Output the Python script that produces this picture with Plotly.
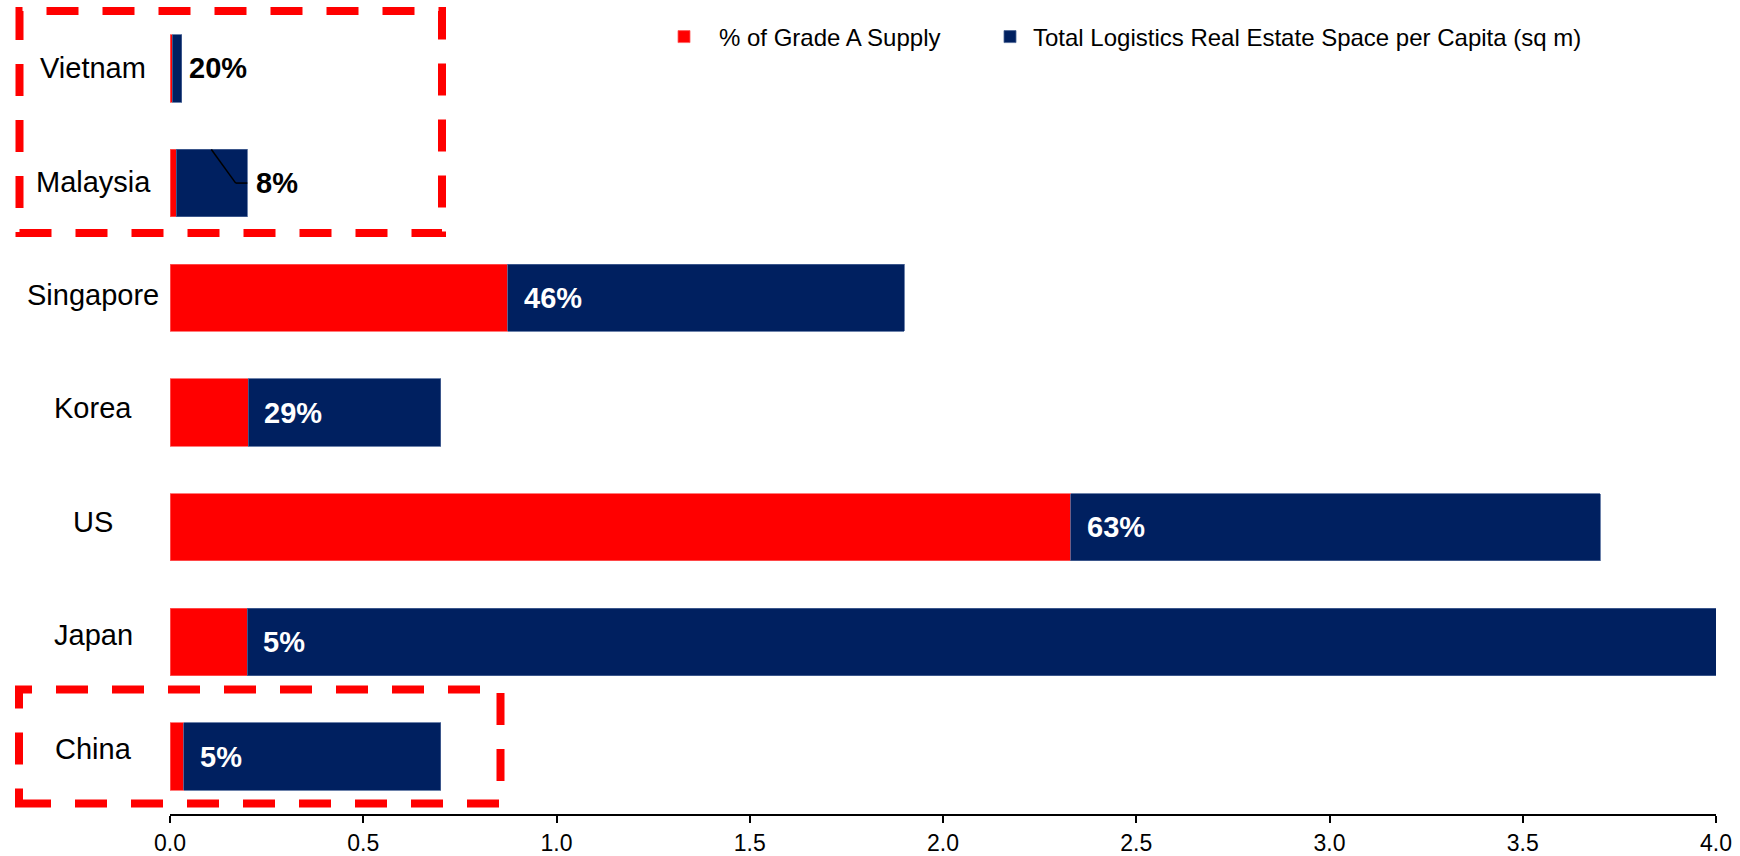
import plotly.graph_objects as go

# ---- data ----
countries = ["Vietnam", "Malaysia", "Singapore", "Korea", "US", "Japan", "China"]
total_space = [0.03, 0.20, 1.90, 0.70, 3.70, 4.00, 0.70]          # sq m per capita
grade_a_space = [0.006, 0.016, 0.874, 0.203, 2.331, 0.200, 0.035]  # Grade A part
grade_a_pct = ["20%", "8%", "46%", "29%", "63%", "5%", "5%"]
outside_labels = ["Vietnam", "Malaysia"]

x_ticks = [0.0, 0.5, 1.0, 1.5, 2.0, 2.5, 3.0, 3.5, 4.0]

RED = "#FF0000"
BLUE = "#002060"
FONT = "Liberation Sans, Arial, sans-serif"

W, H = 1740, 856
L, R, T, B = 170, 24, 11, 42
PW, PH = W - L - R, H - T - B


def px(xp):
    return (xp - L) / PW


def py(yp):
    return (H - B - yp) / PH


rest_space = [t - g for t, g in zip(total_space, grade_a_space)]

fig = go.Figure()
fig.add_trace(go.Bar(
    y=countries, x=grade_a_space, orientation="h", name="% of Grade A Supply",
    marker=dict(color=RED, line=dict(color="#ff5a5a", width=0.8)),
    legend="legend",
))
fig.add_trace(go.Bar(
    y=countries, x=rest_space, orientation="h",
    name="Total Logistics Real Estate Space per Capita (sq m)",
    marker=dict(color=BLUE, line=dict(color="#4a6496", width=0.8)),
    legend="legend2",
))

annotations = []
# category labels (centered, like the original; they sit slightly higher going down)
for i, c in enumerate(countries):
    annotations.append(dict(
        x=px(93), xref="paper", y=c, yref="y", text=c, showarrow=False,
        xanchor="center", yanchor="middle", yshift=1.35 * i,
        font=dict(family=FONT, size=29, color="#000000"),
    ))
# percentage labels
for c, g, t, p in zip(countries, grade_a_space, total_space, grade_a_pct):
    if c in outside_labels:
        annotations.append(dict(
            x=t, xref="x", y=c, yref="y", text="<b>%s</b>" % p, showarrow=False,
            xanchor="left", yanchor="middle", xshift=5 if c == "Vietnam" else 7,
            font=dict(family=FONT, size=29, color="#000000"),
        ))
    else:
        annotations.append(dict(
            x=g, xref="x", y=c, yref="y", text="<b>%s</b>" % p, showarrow=False,
            xanchor="left", yanchor="middle", xshift=14,
            font=dict(family=FONT, size=29, color="#FFFFFF"),
        ))

shapes = []
dash = "32px,24px"
# dashed highlight boxes
shapes.append(dict(type="rect", xref="paper", yref="paper",
                   x0=px(19.5), x1=px(442), y0=py(233), y1=py(11),
                   line=dict(color=RED, width=8, dash=dash), layer="above"))
shapes.append(dict(type="rect", xref="paper", yref="paper",
                   x0=px(19), x1=px(500.5), y0=py(803.5), y1=py(689.5),
                   line=dict(color=RED, width=8, dash=dash), layer="above"))
# leader line of the Malaysia label
mi = countries.index("Malaysia")
shapes.append(dict(type="line", xref="x", yref="y",
                   x0=0.107, y0=mi - 0.293, x1=0.170, y1=mi,
                   line=dict(color="#000000", width=1.5)))
shapes.append(dict(type="line", xref="x", yref="y",
                   x0=0.170, y0=mi, x1=total_space[mi], y1=mi,
                   line=dict(color="#000000", width=1.5)))

legend_common = dict(
    orientation="h", xanchor="left", y=py(37), yanchor="middle",
    bgcolor="rgba(0,0,0,0)", borderwidth=0,
    font=dict(family=FONT, size=24, color="#000000"),
)

fig.update_layout(
    template="none",
    width=W, height=H,
    margin=dict(l=L, r=R, t=T, b=B, pad=0, autoexpand=False),
    barmode="stack", bargap=0.413,
    plot_bgcolor="white", paper_bgcolor="white",
    font=dict(family=FONT, color="#000000"),
    showlegend=True,
    legend=dict(x=px(649), itemwidth=60, **legend_common),
    legend2=dict(x=px(987), itemwidth=36, **legend_common),
    xaxis=dict(
        range=[0, 4], tickvals=x_ticks, ticktext=["%.1f" % v for v in x_ticks],
        showgrid=False, zeroline=False, showline=True, linecolor="#000000",
        linewidth=2, ticks="outside", ticklen=7, tickwidth=2, tickcolor="#000000",
        tickfont=dict(family=FONT, size=23, color="#000000"), automargin=False,
    ),
    yaxis=dict(
        autorange="reversed", showticklabels=False, showgrid=False,
        zeroline=False, showline=False, ticks="", automargin=False,
    ),
    annotations=annotations, shapes=shapes,
)

fig.write_html("out.html")
